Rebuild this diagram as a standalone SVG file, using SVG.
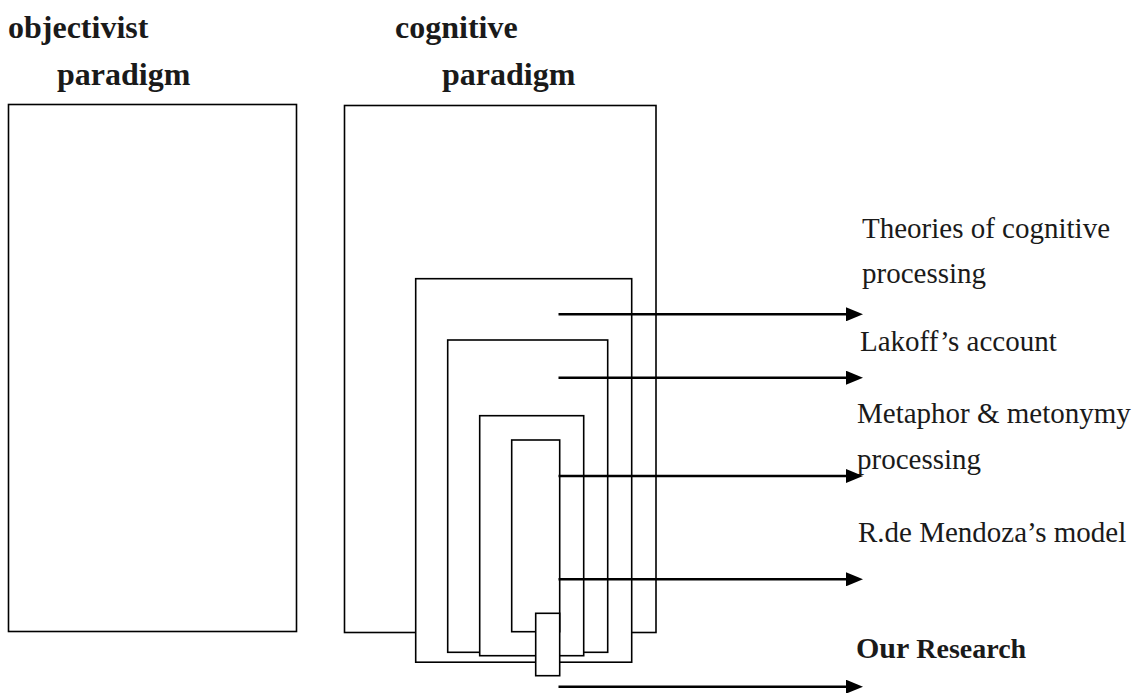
<svg xmlns="http://www.w3.org/2000/svg" width="1134" height="693" viewBox="0 0 1134 693">
  <style>
    .box { fill: #ffffff; stroke: #000000; stroke-width: 1.6; }
    .conn { stroke: #000000; stroke-width: 2.6; fill: none; }
    .hd { font-family: "Liberation Serif", "Times New Roman", serif; font-weight: bold; font-size: 32px; fill: #1a1a1a; }
    .lbl { font-family: "Liberation Serif", "Times New Roman", serif; font-size: 29px; fill: #1a1a1a; }
    .our { font-family: "Liberation Serif", "Times New Roman", serif; font-weight: bold; font-size: 30px; fill: #1a1a1a; }
  </style>
  <defs>
    <marker id="arrow" viewBox="0 0 17 14" markerWidth="17" markerHeight="14" markerUnits="userSpaceOnUse" refX="2" refY="7" orient="auto">
      <path d="M0,0 L17,7 L0,14 z" fill="#000000"/>
    </marker>
  </defs>
  <rect width="1134" height="693" fill="#ffffff"/>

  <g id="objectivist-paradigm">
    <text class="hd" x="8" y="38">objectivist</text>
    <text class="hd" x="57" y="85">paradigm</text>
    <rect class="box" x="8.5" y="104.5" width="288" height="527"/>
  </g>

  <g id="cognitive-paradigm">
    <text class="hd" x="395" y="38">cognitive</text>
    <text class="hd" x="442" y="85">paradigm</text>
    <rect class="box" x="344.5" y="105.5" width="311.5" height="527"/>
  </g>

  <g id="theories-of-cognitive-processing">
    <rect class="box" x="415.7" y="278.7" width="216" height="383.5"/>
    <text class="lbl" x="862" y="238">Theories of cognitive</text>
    <text class="lbl" x="862" y="283">processing</text>
  </g>

  <g id="lakoffs-account">
    <rect class="box" x="447.7" y="340" width="160" height="312.3"/>
    <text class="lbl" x="860" y="351">Lakoff’s account</text>
  </g>

  <g id="metaphor-metonymy-processing">
    <rect class="box" x="479.7" y="415.7" width="104" height="240"/>
    <text class="lbl" x="857" y="423">Metaphor &amp; metonymy</text>
    <text class="lbl" x="857" y="469">processing</text>
  </g>

  <g id="r-de-mendozas-model">
    <rect class="box" x="511.7" y="440" width="48" height="191.7"/>
    <text class="lbl" x="858" y="542">R.de Mendoza’s model</text>
  </g>

  <g id="our-research">
    <rect class="box" x="535.7" y="613.3" width="24" height="62.4"/>
    <text class="our" x="856" y="658">Our <tspan font-size="28px">Research</tspan></text>
  </g>

  <g id="connectors">
    <line class="conn" x1="558.5" y1="314.3" x2="848" y2="314.3" marker-end="url(#arrow)"/>
    <line class="conn" x1="558.5" y1="377.7" x2="848" y2="377.7" marker-end="url(#arrow)"/>
    <line class="conn" x1="558.5" y1="476" x2="848" y2="476" marker-end="url(#arrow)"/>
    <line class="conn" x1="558.5" y1="579.3" x2="848" y2="579.3" marker-end="url(#arrow)"/>
    <line class="conn" x1="558.5" y1="686.7" x2="848" y2="686.7" marker-end="url(#arrow)"/>
  </g>
</svg>
